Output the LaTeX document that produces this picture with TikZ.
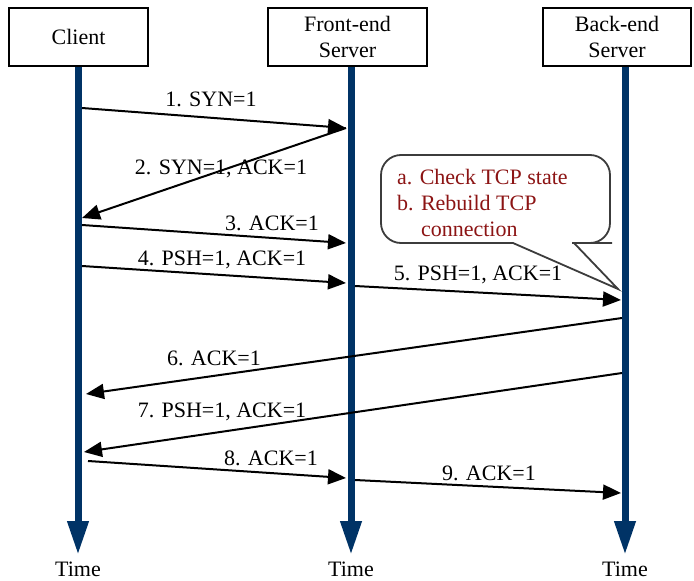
\documentclass[tikz,border=0pt]{standalone}
\usepackage{fontspec}
\setmainfont{Liberation Serif}
\usetikzlibrary{arrows.meta}
\definecolor{lifeblue}{RGB}{0,51,102}
\definecolor{notered}{RGB}{140,20,20}
\definecolor{notegray}{RGB}{60,60,60}
\tikzset{
  txt/.style={font=\fontsize{22}{26}\selectfont, inner sep=0pt},
  actor/.style={txt, draw=black, line width=2pt, fill=white, align=center, minimum height=58pt},
  lifeline/.style={draw=lifeblue, line width=7pt, -{Triangle[length=34pt,width=20pt]}},
  msg/.style={draw=black, line width=2pt, -{Triangle[length=18pt,width=15pt]}},
  msglabel/.style={txt, anchor=base},
  bubble/.style={draw=notegray, line width=1.8pt, fill=white},
}
\begin{document}
\begin{tikzpicture}[x=1pt,y=-1pt]
\useasboundingbox (0,0) rectangle (694,581);

% participants
\node[actor, minimum width=139pt] (client) at (78.5,37) {Client};
\node[actor, minimum width=159pt] (front) at (347.5,37) {Front-end\\Server};
\node[actor, minimum width=148pt] (back) at (617,37) {Back-end\\Server};

% lifeline ends
\coordinate (cEnd) at (78,555);
\coordinate (fEnd) at (351,555);
\coordinate (bEnd) at (625,555);
\draw[lifeline] (client.south -| cEnd) -- (cEnd);
\draw[lifeline] (front.south -| fEnd) -- (fEnd);
\draw[lifeline] (back.south -| bEnd) -- (bEnd);

\node[txt, anchor=base] (tC) at (78,576) {Time};
\node[txt, anchor=base] (tF) at (351,576) {Time};
\node[txt, anchor=base] (tB) at (625,576) {Time};

% message end points on the lifelines
\coordinate (m1s) at (82,108);  \coordinate (m1e) at (346,128);
\coordinate (m2s) at (346,128); \coordinate (m2e) at (82,218);
\coordinate (m3s) at (82,225);  \coordinate (m3e) at (346,243);
\coordinate (m4s) at (82,266);  \coordinate (m4e) at (346,283);
\coordinate (m5s) at (355,286); \coordinate (m5e) at (621,300);
\coordinate (m6s) at (622,318); \coordinate (m6e) at (86,394);
\coordinate (m7s) at (622,373); \coordinate (m7e) at (84,452);
\coordinate (m8s) at (88,461);  \coordinate (m8e) at (346,478);
\coordinate (m9s) at (355,480); \coordinate (m9e) at (621,493);

\draw[msg] (m1s) -- (m1e);
\draw[msg] (m2s) -- (m2e);
\draw[msg] (m3s) -- (m3e);
\draw[msg] (m4s) -- (m4e);
\draw[msg] (m5s) -- (m5e);
\draw[msg] (m6s) -- (m6e);
\draw[msg] (m7s) -- (m7e);
\draw[msg] (m8s) -- (m8e);
\draw[msg] (m9s) -- (m9e);

\node[msglabel] (l1) at (211,106) {1. SYN=1};
\node[msglabel] (l2) at (221,174) {2. SYN=1, ACK=1};
\node[msglabel] (l3) at (272,230) {3. ACK=1};
\node[msglabel] (l4) at (222,265) {4. PSH=1, ACK=1};
\node[msglabel] (l5) at (478,280) {5. PSH=1, ACK=1};
\node[msglabel] (l6) at (214,365) {6. ACK=1};
\node[msglabel] (l7) at (222,417) {7. PSH=1, ACK=1};
\node[msglabel] (l8) at (271,465) {8. ACK=1};
\node[msglabel] (l9) at (489,480) {9. ACK=1};

% call-out at the back-end server
\coordinate (tip) at (618,289);
\draw[bubble] (480,155) [rounded corners=20pt] -- (610,155) -- (610,243) -- (592,243)
  [sharp corners] -- (574,243) -- (tip) -- (513,243) -- (498,243)
  [rounded corners=20pt] -- (381,243) -- (381,155) -- cycle;
\node[txt, text=notered, align=left, anchor=west] (note) at (397,203)
  {a. Check TCP state\\b. Rebuild TCP\\\phantom{b. }connection};
\end{tikzpicture}
\end{document}
